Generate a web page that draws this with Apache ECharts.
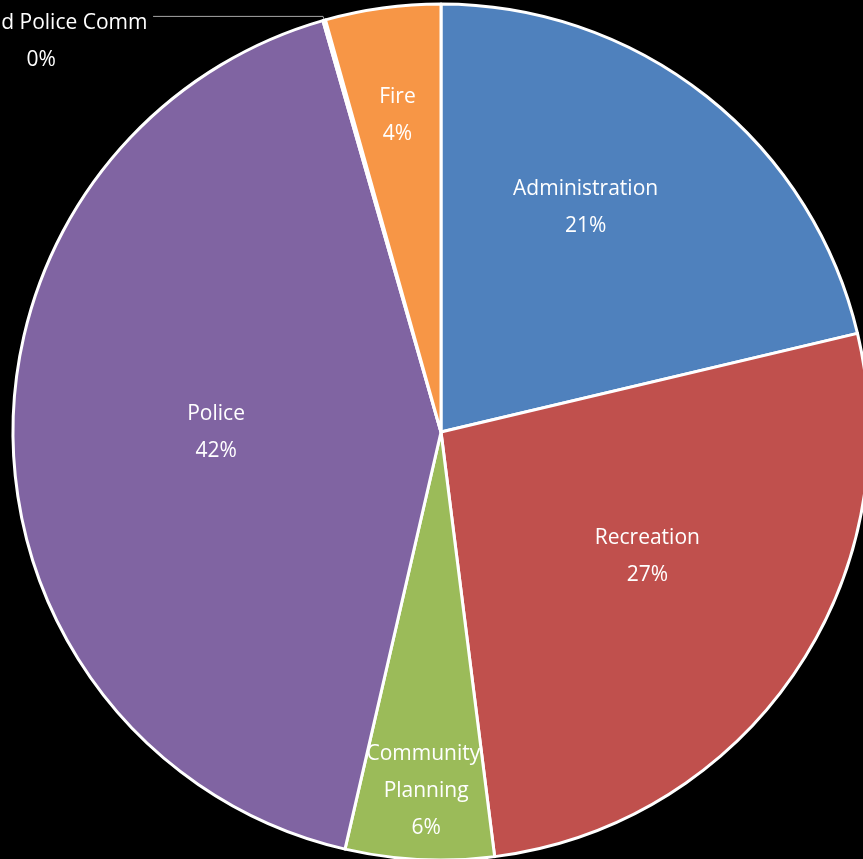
<!DOCTYPE html>
<html>
<head>
<meta charset="utf-8">
<script src="https://cdn.jsdelivr.net/npm/echarts@6/dist/echarts.min.js"></script>
<style>
html,body{margin:0;padding:0;background:#000;}
#chart{width:863px;height:859px;}
</style>
</head>
<body>
<div id="chart"></div>
<script>
const categories = ['Administration', 'Recreation', 'Community Planning', 'Police', 'Fire and Police Comm', 'Fire'];
const shares = [21.3, 26.7, 5.6, 41.95, 0.1, 4.35];
const colors = ['#4F81BD', '#C0504D', '#9BBB59', '#8064A2', '#4BACC6', '#F79646'];

// label placement tweaks (styling only)
const labelTweaks = {
  'Administration': { offset: [10, -54] },
  'Recreation': { offset: [28, 1] },
  'Community Planning': { offset: [-4, 142], width: 125, overflow: 'break' },
  'Police': { offset: [-8, -5] },
  'Fire': { offset: [-14, -102] }
};

const data = categories.map((name, i) => {
  const item = { name: name, value: shares[i], itemStyle: { color: colors[i] } };
  if (name === 'Fire and Police Comm') {
    item.label = {
      position: 'outside',
      alignTo: 'none',
      color: '#fff',
      padding: [50, 0, 0, 0],
      formatter: p => '{a|' + p.name + '}\n{a|' + Math.round(p.percent) + '%}',
      rich: {
        a: { width: 214, align: 'center', color: '#fff', fontFamily: 'Open Sans', fontSize: 21, lineHeight: 37 }
      }
    };
    item.labelLine = {
      show: true,
      length: 4,
      length2: 170,
      lineStyle: { color: '#a6a6a6', width: 1 }
    };
  } else {
    item.label = Object.assign({ position: 'inside' }, labelTweaks[name] || {});
  }
  return item;
});

const chart = echarts.init(document.getElementById('chart'), null, { renderer: 'canvas' });
chart.setOption({
  backgroundColor: '#000',
  animation: false,
  series: [{
    type: 'pie',
    center: [441, 432],
    radius: [0, 428],
    startAngle: 90,
    clockwise: true,
    avoidLabelOverlap: false,
    itemStyle: { borderColor: '#fff', borderWidth: 3 },
    label: {
      show: true,
      color: '#fff',
      fontFamily: 'Open Sans',
      fontSize: 21,
      lineHeight: 37,
      align: 'center',
      formatter: p => p.name + '\n' + Math.round(p.percent) + '%'
    },
    labelLine: { show: false },
    emphasis: { disabled: true },
    data: data
  }]
});
</script>
</body>
</html>
